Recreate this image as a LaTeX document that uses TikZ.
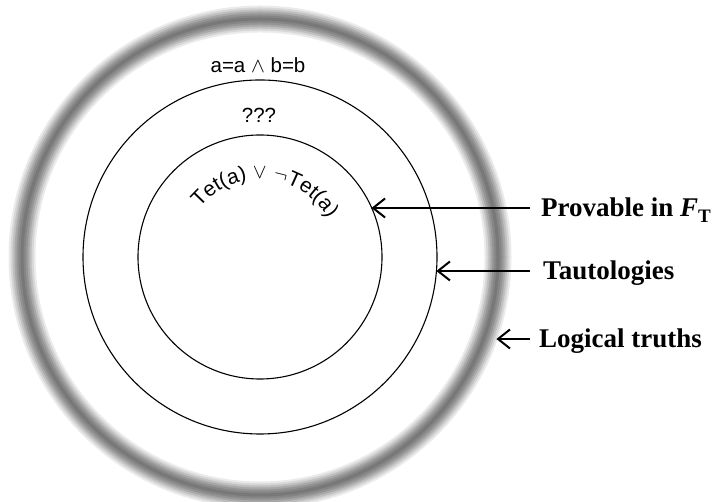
\documentclass[tikz,border=0pt]{standalone}
\usepackage{fontspec}
\setmainfont{Liberation Sans}
\newfontfamily\lblfont{Liberation Serif}
\usetikzlibrary{arrows.meta,decorations.text,calc}

\begin{document}
\begin{tikzpicture}[x=1pt,y=1pt,
		every node/.style={font=\fontsize{20.5}{24}\selectfont},
		ring/.style={circle, draw, line width=1.1pt, inner sep=0pt, outer sep=0pt},
		arr/.style={line width=2.2pt, -{Straight Barb[length=12pt,width=19pt,line width=2pt]}},
		lbl/.style={anchor=base west, inner sep=2pt, font=\lblfont\bfseries\fontsize{27}{30}\selectfont}]
		\useasboundingbox (0,0) rectangle (714,502);
		\coordinate (c) at (260,245);
		% fuzzy band of the logical truths
		\foreach \w/\g in {27/8, 23/16, 19/25, 15/34, 11/42, 7/48, 3/53}
			\draw[line width=\w pt, black!\g] (c) circle[radius=238];
		\node[circle, minimum size=500pt, inner sep=0pt, outer sep=0pt] (logic) at (c) {};
		\node[ring, minimum size=354pt] (taut) at (c) {};
		\node[ring, minimum size=244pt] (prov) at (c) {};
		\node[anchor=base] (conj) at (258,429) {a=a $\wedge$ b=b};
		\node[anchor=base] (unk) at (259,379) {???};
		\path[decorate, decoration={text along path, text align=center,
			text format delimiters={|}{|},
			text={|\fontsize{21}{24}\selectfont|Tet(a) {$\vee$} {$\neg$}Tet(a)}}]
			(c) ++(145:78) arc[start angle=145, end angle=25, radius=78];
		\node[lbl] (provlbl) at (539,285) {Provable in \textit{F}\raisebox{-6pt}{\fontsize{19}{20}\selectfont T}};
		\node[lbl] (tautlbl) at (541,222) {Tautologies};
		\node[lbl] (logiclbl) at (537,154) {Logical truths};
		\coordinate (provtail) at (530,294);
		\coordinate (tauttail) at (530,231);
		\coordinate (logictail) at (530,163);
		\draw[arr] (provtail) -- (provtail -| prov.24);
		\draw[arr] (tauttail) -- (tauttail -| taut.-5);
		\draw[arr] (logictail) -- (logictail -| logic.-19);
	\end{tikzpicture}
\end{document}
